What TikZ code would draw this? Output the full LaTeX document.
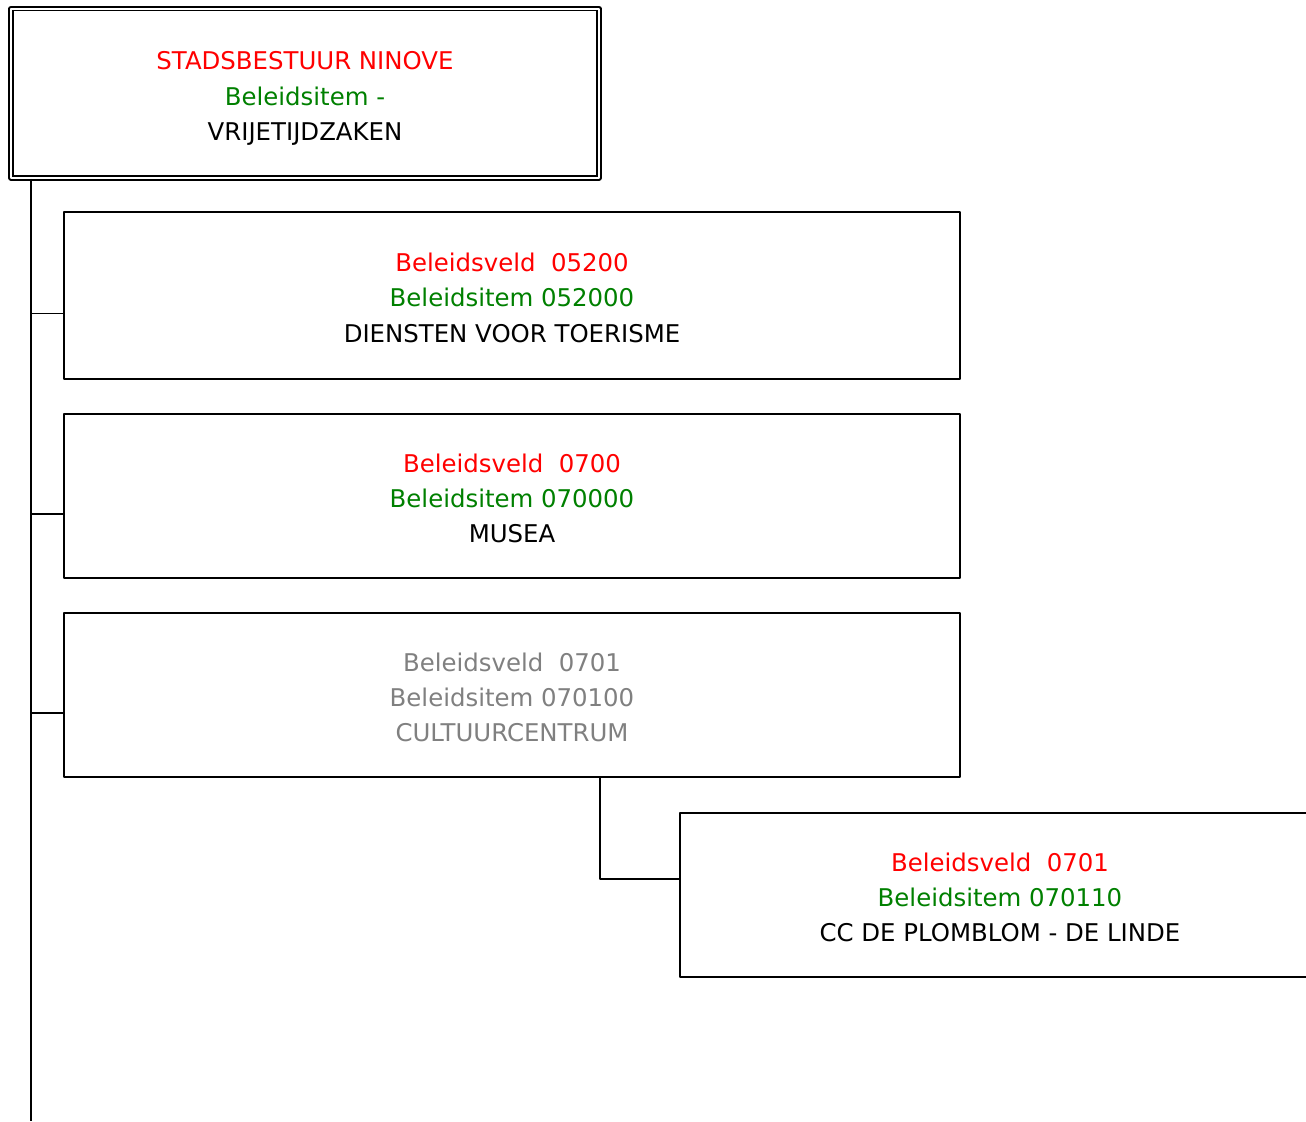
\documentclass[tikz,border=0pt]{standalone}
\usepackage{fontspec}
\setmainfont{DejaVu Sans}
\usetikzlibrary{calc,positioning}
\definecolor{rood}{RGB}{255,0,0}
\definecolor{groen}{RGB}{0,128,0}
\definecolor{grijs}{RGB}{128,128,128}
\newcommand{\veld}[1]{\textcolor{rood}{Beleidsveld~ #1}}
\newcommand{\post}[1]{\textcolor{groen}{Beleidsitem #1}}
\newcommand{\drie}[3]{\rule{0pt}{17.5pt}#1\\#2\\#3}
\begin{document}
\begin{tikzpicture}[x=0.75pt,y=-0.75pt,line join=round,
    box/.style={draw,line width=1.2pt,rectangle,align=center,inner sep=0pt,
      font=\fontsize{18.3}{26.6}\selectfont,minimum width=672pt,minimum height=123pt},
    topbox/.style={box,double,line width=1.2pt,double distance=1.5pt,
      minimum width=441pt,minimum height=127.1pt},
    tak/.style={line width=1.2pt}]
    \useasboundingbox (0,0) rectangle (1306,1121);
    \clip (0,0) rectangle (1306,1121);
    \node[topbox] (top) at (305,93.25)
      {\rule{0pt}{21.5pt}\textcolor{rood}{STADSBESTUUR NINOVE}\\\post{-}\\VRIJETIJDZAKEN};
    \node[box,minimum height=125.25pt] (toer) at (512,295.5)
      {\drie{\veld{05200}}{\post{052000}}{DIENSTEN VOOR TOERISME}};
    \node[box] (musea) at (512,496)
      {\drie{\veld{0700}}{\post{070000}}{MUSEA}};
    \node[box,text=grijs] (cult) at (512,695)
      {\drie{Beleidsveld~ 0701}{Beleidsitem 070100}{CULTUURCENTRUM}};
    \node[box,minimum width=480pt] (linde) at (1000,895)
      {\drie{\veld{0701}}{\post{070110}}{CC DE PLOMBLOM - DE LINDE}};
    % stam langs de linkerkant
    \coordinate (stam) at (31,1121);
    \draw[tak] (top.south -| stam) -- (stam);
    \foreach \b in {toer,musea,cult}{%
      \draw[tak] ([yshift=-13.5pt]\b.west) -- ([yshift=-13.5pt]\b.west -| stam);
    }
    \draw[tak] ([xshift=66pt]cult.south) |- ([yshift=12pt]linde.west);
  \end{tikzpicture}
\end{document}
